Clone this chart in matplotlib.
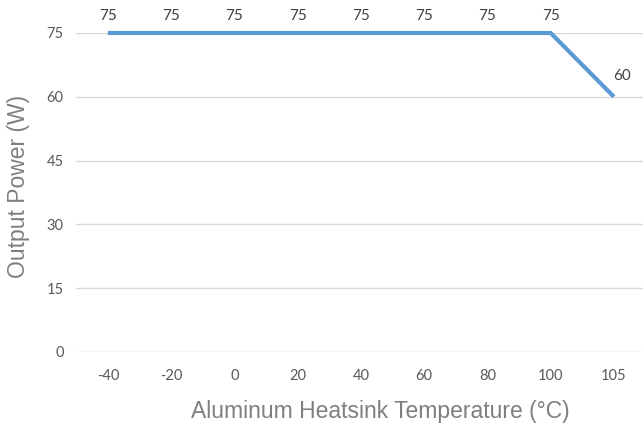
import matplotlib
matplotlib.use("Agg")
import matplotlib.pyplot as plt

categories = ["-40", "-20", "0", "20", "40", "60", "80", "100", "105"]
power = [75, 75, 75, 75, 75, 75, 75, 75, 60]
yticks = [0, 15, 30, 45, 60, 75]

fig = plt.figure(figsize=(6.43, 4.30), dpi=100)
ax = fig.add_axes([0.1185, 0.1814, 0.8855, 0.7419])
x = list(range(len(categories)))
ax.plot(x, power, color="#5B9BD5", lw=3, solid_capstyle="butt", clip_on=False, zorder=3)

for i, v in enumerate(power):
    if i == len(power) - 1:
        ax.annotate(str(v), (i, v), xytext=(6, 10), textcoords="offset points",
                    ha="center", va="bottom", fontsize=11, color="#404040", family="Lato")
    else:
        ax.annotate(str(v), (i, v), xytext=(0, 7), textcoords="offset points",
                    ha="center", va="bottom", fontsize=11, color="#404040", family="Lato")

ax.set_xlim(-0.5, len(categories) - 0.5)
ax.set_ylim(0, 75)
ax.set_yticks(yticks)
ax.set_xticks(x)
ax.set_xticklabels(categories)
ax.yaxis.grid(True, color="#d9d9d9", lw=1)
ax.set_axisbelow(True)
for s in ax.spines.values():
    s.set_visible(False)
ax.tick_params(axis="both", length=0, labelsize=10.5, labelcolor="#595959")
for lab in ax.get_xticklabels() + ax.get_yticklabels():
    lab.set_family("Lato")
ax.tick_params(axis="x", pad=12)
ax.tick_params(axis="y", pad=9)
ax.set_xlabel("Aluminum Heatsink Temperature (°C)", fontsize=16.5, color="#7f7f7f",
              family="Liberation Sans")
ax.set_ylabel("Output Power (W)", fontsize=16.5, color="#7f7f7f",
              family="Liberation Sans")
ax.xaxis.set_label_coords(0.535, -0.15)
ax.yaxis.set_label_coords(-0.081, 0.52)

fig.savefig("out.png", dpi=100)
